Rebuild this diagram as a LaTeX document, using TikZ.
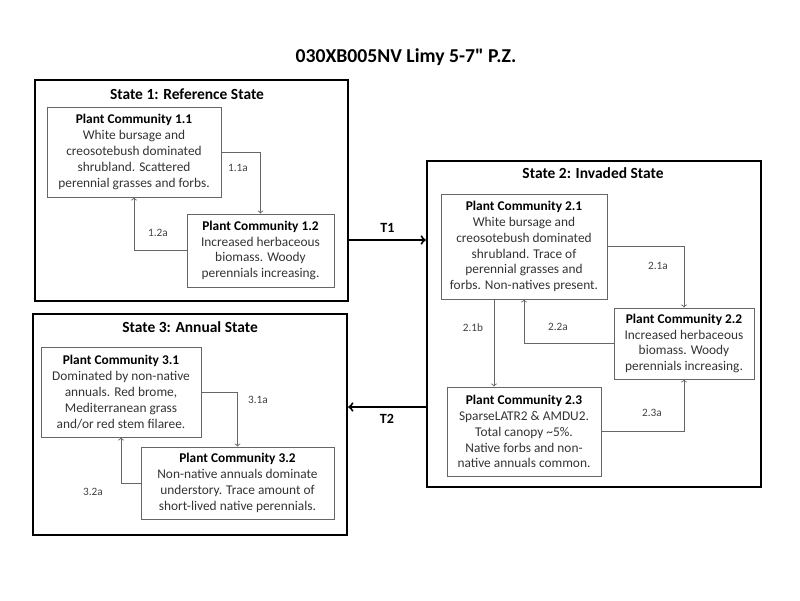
\documentclass[tikz,border=0pt]{standalone}
\usepackage{fontspec}
\setmainfont{Carlito}[Ligatures=TeXOff]
\usetikzlibrary{shapes,arrows}
\tikzstyle{state} = [rectangle, draw, line width=1.6pt]
\tikzstyle{block} = [rectangle, draw=black!60, line width=0.6pt, text=black!80,
    align=center, font=\fontsize{9.5}{11.3}\selectfont]
\tikzstyle{line} = [draw=black!60, line width=0.6pt, ->, >=to]
\tikzstyle{trans} = [draw, line width=1.4pt, ->, >=to]
\tikzstyle{lbl} = [text=black!75, font=\fontsize{8}{9}\selectfont]

\begin{document}
\begin{tikzpicture}[x=0.025cm, y=-0.025cm,
  stitle/.style={font=\bfseries\fontsize{11}{13}\selectfont}]
\useasboundingbox (0,0) rectangle (800,600);
\node [font=\bfseries\fontsize{14}{16}\selectfont] at (406,57) (title) {030XB005NV Limy 5-7" P.Z.};

% states
\node [state, minimum width=7.825cm, minimum height=5.525cm] at (191.5,190.5) (state1) {};
\node [state, minimum width=8.35cm, minimum height=8.15cm] at (594,324) (state2) {};
\node [state, minimum width=7.85cm, minimum height=5.525cm] at (190,424.5) (state3) {};
\node [stitle] at (187,94) (s1title) {State 1: Reference State};
\node [stitle] at (593,173) (s2title) {State 2: Invaded State};
\node [stitle] at (190,327) (s3title) {State 3: Annual State};

% plant communities
\node [block, minimum width=4.35cm, minimum height=2.25cm] at (134,152) (pc11)
  {\textbf{\color{black}Plant Community 1.1}\\White bursage and\\creosotebush dominated\\shrubland. Scattered\\perennial grasses and forbs.};
\node [block, minimum width=3.675cm, minimum height=1.825cm] at (260.5,250.5) (pc12)
  {\textbf{\color{black}Plant Community 1.2}\\Increased herbaceous\\biomass. Woody\\perennials increasing.};
\node [block, minimum width=4.15cm, minimum height=2.625cm] at (524,246.5) (pc21)
  {\textbf{\color{black}Plant Community 2.1}\\White bursage and\\creosotebush dominated\\shrubland. Trace of\\perennial grasses and\\forbs. Non-natives present.};
\node [block, minimum width=3.5cm, minimum height=1.775cm] at (684,343.5) (pc22)
  {\textbf{\color{black}Plant Community 2.2}\\Increased herbaceous\\biomass. Woody\\perennials increasing.};
\node [block, minimum width=3.85cm, minimum height=2.225cm] at (524,431.5) (pc23)
  {\textbf{\color{black}Plant Community 2.3}\\SparseLATR2 \& AMDU2.\\Total canopy \textasciitilde5\%.\\Native forbs and non-\\native annuals common.};
\node [block, minimum width=4.0cm, minimum height=2.25cm] at (121,392) (pc31)
  {\textbf{\color{black}Plant Community 3.1}\\Dominated by non-native\\annuals. Red brome,\\Mediterranean grass\\and/or red stem filaree.};
\node [block, minimum width=4.825cm, minimum height=1.8cm] at (237.5,483) (pc32)
  {\textbf{\color{black}Plant Community 3.2}\\Non-native annuals dominate\\understory. Trace amount of\\short-lived native perennials.};

% pathways
\draw [line] (pc11.east) -| (pc12.north);
\draw [line] (pc12.west) -| (pc11.south);
\draw [line] (pc21.east) -| (pc22.north);
\draw [line] (pc22.west) -| (pc21.south);
\draw [line] ([xshift=-0.75cm] pc21.south) -- ([xshift=-0.75cm] pc21.south |- pc23.north);
\draw [line] (pc23.east) -| (pc22.south);
\draw [line] (pc31.east) -| (pc32.north);
\draw [line] (pc32.west) -| (pc31.south);
\node [lbl] at (238,168) (l11a) {1.1a};
\node [lbl] at (158,233) (l12a) {1.2a};
\node [lbl] at (658,266) (l21a) {2.1a};
\node [lbl] at (558,327) (l22a) {2.2a};
\node [lbl] at (473,328) (l21b) {2.1b};
\node [lbl] at (652,413) (l23a) {2.3a};
\node [lbl] at (258,400) (l31a) {3.1a};
\node [lbl] at (93,492) (l32a) {3.2a};

% transitions
\coordinate (t1) at ([yshift=-1.2375cm] state1.east);
\coordinate (t2) at ([yshift=0.4375cm] state3.east);
\draw [trans] (t1) -- node[above=1pt, font=\bfseries\fontsize{10}{12}\selectfont] {T1} (t1 -| state2.west);
\draw [trans] (t2 -| state2.west) -- node[below=1pt, font=\bfseries\fontsize{10}{12}\selectfont] {T2} (t2);
\end{tikzpicture}
\end{document}
